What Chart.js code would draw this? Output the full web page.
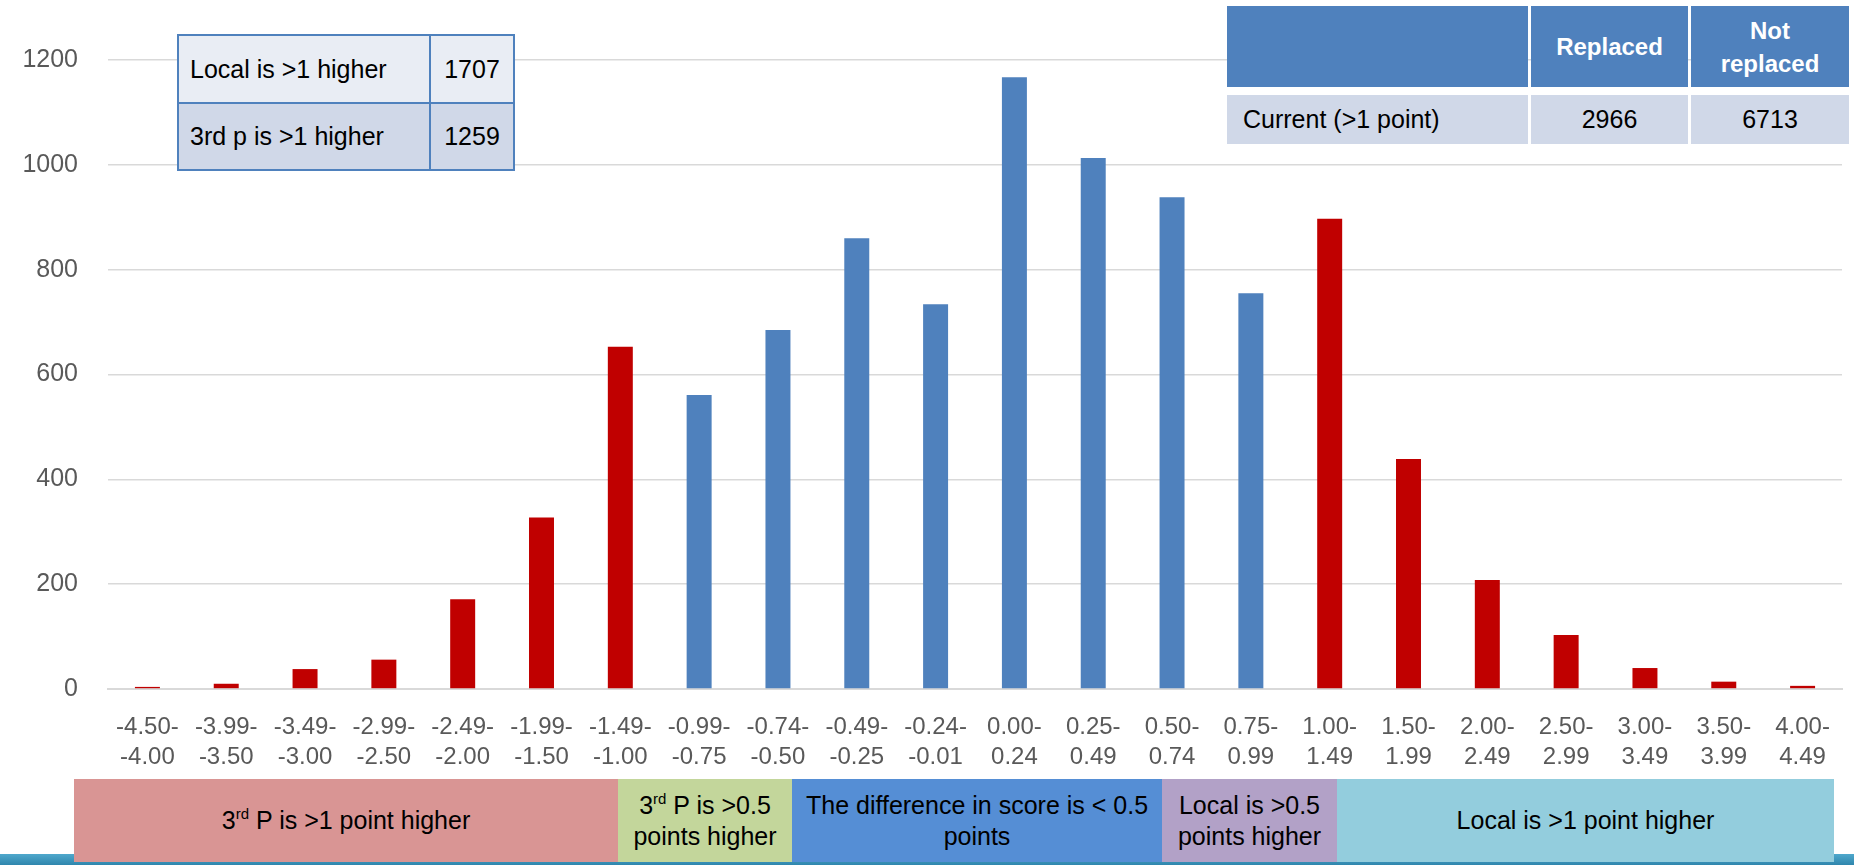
<!DOCTYPE html>
<html>
<head>
<meta charset="utf-8">
<script src="https://cdn.jsdelivr.net/npm/chart.js@4"></script>
<style>
  html, body { margin: 0; padding: 0; background: #fff; }
  body { width: 1854px; height: 865px; position: relative; overflow: hidden; font-family: 'Liberation Sans', Arial, sans-serif; }
  #chart { position: absolute; left: 0; top: 0; }
  .box { position: absolute; box-sizing: border-box; display: flex; align-items: center; justify-content: center; text-align: center; color: #000; font-size: 25px; line-height: 31px; }
  .left { justify-content: flex-start; padding-left: 11px; }
  sup { font-size: 15px; line-height: 0; vertical-align: 0; position: relative; top: -10px; }
  #strip { position: absolute; left: 0; top: 854px; width: 1854px; height: 11px; background: linear-gradient(#4fa8cc, #2f86ad); }
  .hdr { background: #4f81bd; color: #fff; font-weight: bold; font-size: 24px; line-height: 33px; }
  .row { background: #d0d8e8; }
</style>
</head>
<body>
<canvas id="chart" width="1854" height="865"></canvas>
<div id="strip"></div>
<div id="overlay"></div>
<script>
'use strict';

const categories = [
  ['-4.50-', '-4.00'], ['-3.99-', '-3.50'], ['-3.49-', '-3.00'], ['-2.99-', '-2.50'],
  ['-2.49-', '-2.00'], ['-1.99-', '-1.50'], ['-1.49-', '-1.00'], ['-0.99-', '-0.75'],
  ['-0.74-', '-0.50'], ['-0.49-', '-0.25'], ['-0.24-', '-0.01'], ['0.00-', '0.24'],
  ['0.25-', '0.49'], ['0.50-', '0.74'], ['0.75-', '0.99'], ['1.00-', '1.49'],
  ['1.50-', '1.99'], ['2.00-', '2.49'], ['2.50-', '2.99'], ['3.00-', '3.49'],
  ['3.50-', '3.99'], ['4.00-', '4.49'],
];

const counts = [4, 10, 38, 56, 171, 327, 653, 561, 685, 860, 734, 1167, 1013, 938, 755, 897, 439, 208, 103, 40, 14, 6];

// 1 = difference above 1 point (replaced), 0 = not replaced
const replaced = [1, 1, 1, 1, 1, 1, 1, 0, 0, 0, 0, 0, 0, 0, 0, 1, 1, 1, 1, 1, 1, 1];

const yTicks = [0, 200, 400, 600, 800, 1000, 1200];

const summaryRows = [['Local is >1 higher', 1707], ['3rd p is >1 higher', 1259]];
const replaceHeader = ['Replaced', 'Not<br>replaced'];
const replaceRow = ['Current (>1 point)', 2966, 6713];

const bandLabels = [
  '3<sup>rd</sup> P is &gt;1 point higher',
  '3<sup>rd</sup> P is &gt;0.5<br>points higher',
  'The difference in score is &lt; 0.5<br>points',
  'Local is &gt;0.5<br>points higher',
  'Local is &gt;1 point higher',
];

const RED = '#c00000';
const BLUE = '#4f81bd';

function box(html, x, y, w, h, cls, style) {
  const d = document.createElement('div');
  d.className = 'box ' + (cls || '');
  d.style.left = x + 'px';
  d.style.top = y + 'px';
  d.style.width = w + 'px';
  d.style.height = h + 'px';
  if (style) d.style.cssText += style;
  const s = document.createElement('span');
  s.innerHTML = html;
  d.appendChild(s);
  document.getElementById('overlay').appendChild(d);
}

function buildOverlay() {
  // small summary table, top left
  const tb = 'border:2px solid #4f81bd;';
  box(summaryRows[0][0], 177, 34, 254, 70, 'left', tb + 'background:#e9edf4;');
  box(summaryRows[0][1], 429, 34, 86, 70, '', tb + 'background:#e9edf4;');
  box(summaryRows[1][0], 177, 102, 254, 69, 'left', tb + 'background:#d0d8e8;');
  box(summaryRows[1][1], 429, 102, 86, 69, '', tb + 'background:#d0d8e8;');

  // replaced / not replaced table, top right
  box('', 1227, 6, 301, 81, 'hdr');
  box(replaceHeader[0], 1531, 6, 157, 81, 'hdr');
  box(replaceHeader[1], 1691, 6, 158, 81, 'hdr');
  box(replaceRow[0], 1227, 95, 301, 49, 'row left', 'padding-left:16px;');
  box(replaceRow[1], 1531, 95, 157, 49, 'row');
  box(replaceRow[2], 1691, 95, 158, 49, 'row');

  // coloured bands under the axis
  const bandX = [74, 618, 792, 1162, 1337, 1834];
  const bandColors = ['#d99594', '#c3d69b', '#558ed5', '#b2a1c7', '#93cddd'];
  bandLabels.forEach((t, i) => {
    box(t, bandX[i], 779, bandX[i + 1] - bandX[i], 83, '', 'background:' + bandColors[i] + ';');
  });
}

function drawChart() {
  const ctx = document.getElementById('chart').getContext('2d');
  new Chart(ctx, {
    type: 'bar',
    data: {
      labels: categories,
      datasets: [{
        data: counts,
        backgroundColor: replaced.map(r => r ? RED : BLUE),
        borderWidth: 0,
        categoryPercentage: 1,
        barPercentage: 0.317,
      }],
    },
    options: {
      responsive: false,
      animation: false,
      layout: { padding: { top: 60, right: 12, left: 0, bottom: 0 } },
      plugins: { legend: { display: false }, tooltip: { enabled: false } },
      scales: {
        x: {
          grid: { display: false, drawTicks: false },
          border: { display: true, color: '#d9d9d9', width: 2 },
          ticks: {
            color: '#595959',
            font: { family: "'Liberation Sans', Arial, sans-serif", size: 24, lineHeight: 1.25 },
            padding: 23,
            maxRotation: 0,
            autoSkip: false,
          },
          afterFit: s => { s.height = 176; },
        },
        y: {
          min: 0,
          max: 1200,
          afterBuildTicks: s => { s.ticks = yTicks.map(v => ({ value: v })); },
          grid: { color: '#d9d9d9', lineWidth: 1.6, drawTicks: false },
          border: { display: false },
          ticks: {
            color: '#595959',
            font: { family: "'Liberation Sans', Arial, sans-serif", size: 25 },
            padding: 30,
            callback: v => String(v),
          },
          afterFit: s => { s.width = 108; },
        },
      },
    },
  });
}

document.addEventListener('DOMContentLoaded', () => {
  drawChart();
  buildOverlay();
});
</script>
</body>
</html>
